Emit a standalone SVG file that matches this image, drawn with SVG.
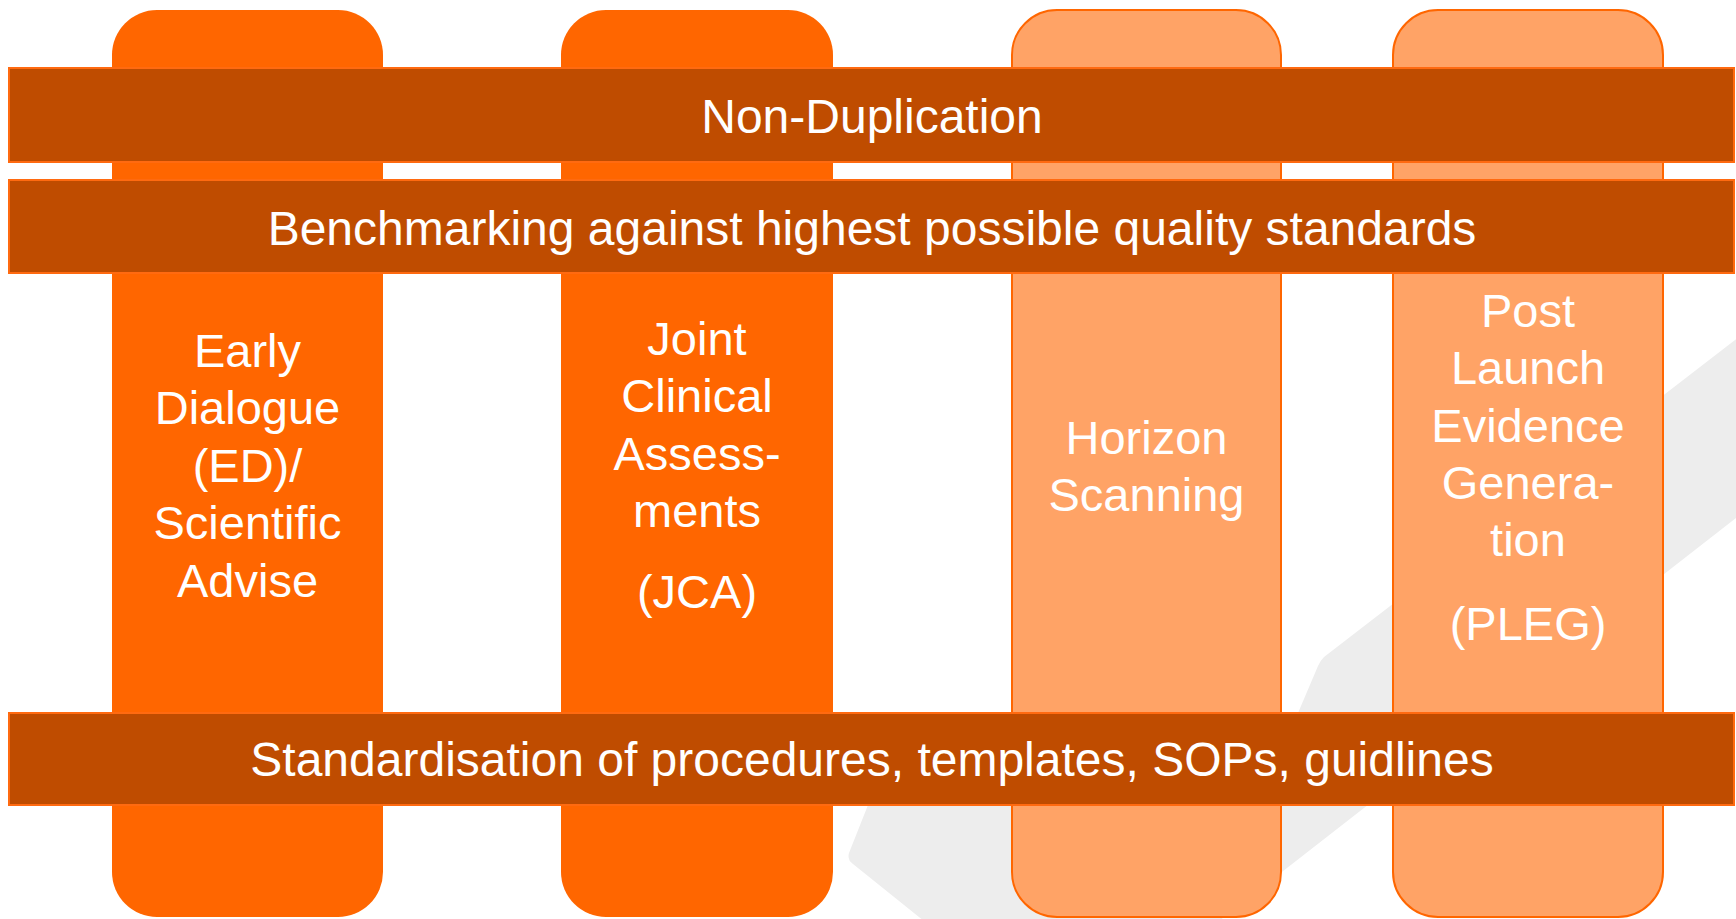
<svg xmlns="http://www.w3.org/2000/svg" width="1736" height="919" viewBox="0 0 1736 919">
<style>
.bg{fill:#EDEDED}
.pDark{fill:#FF6600}
.pLight{fill:#FFA366;stroke:#FF6600;stroke-width:2}
.bar{fill:#BF4C00;stroke:#FF6A10;stroke-width:2}
.t{font-family:"Liberation Sans",Arial,sans-serif;fill:#FFFFFF;text-anchor:middle}
.tb{font-size:48px}
.tp{font-size:47px}
</style>
<rect x="0" y="0" width="1736" height="919" fill="#FFFFFF"/>
<path class="bg" d="M 1800 290 L 1324 657 Q 1320 661 1318 666 L 1298 713 L 875 790 L 868 805 L 849 853 Q 847 860 853 864 L 960 950 L 1169 960 L 1736 518 L 1800 468 Z"/>
<g id="pillar-ed">
<rect class="pDark" x="112" y="10" width="271" height="907" rx="45" ry="45"/>
</g>
<g id="pillar-jca">
<rect class="pDark" x="561" y="10" width="272" height="907" rx="45" ry="45"/>
</g>
<g id="pillar-hs">
<rect class="pLight" x="1012" y="10" width="269" height="907" rx="45" ry="45"/>
</g>
<g id="pillar-pleg">
<rect class="pLight" x="1393" y="10" width="270" height="907" rx="45" ry="45"/>
</g>
<g id="bar-nonduplication">
<rect class="bar" x="9" y="68" width="1725" height="94"/>
<text class="t tb" x="872" y="133">Non-Duplication</text>
</g>
<g id="bar-benchmarking">
<rect class="bar" x="9" y="180" width="1725" height="93"/>
<text class="t tb" x="872" y="245">Benchmarking against highest possible quality standards</text>
</g>
<g id="bar-standardisation">
<rect class="bar" x="9" y="713" width="1725" height="92"/>
<text class="t tb" x="872" y="776">Standardisation of procedures, templates, SOPs, guidlines</text>
</g>
<g id="label-ed">
<text class="t tp"><tspan x="247.5" y="367">Early</tspan><tspan x="247.5" y="424">Dialogue</tspan><tspan x="247.5" y="482">(ED)/</tspan><tspan x="247.5" y="539">Scientific</tspan><tspan x="247.5" y="597">Advise</tspan></text>
</g>
<g id="label-jca">
<text class="t tp"><tspan x="697" y="355">Joint</tspan><tspan x="697" y="412">Clinical</tspan><tspan x="697" y="470">Assess-</tspan><tspan x="697" y="527">ments</tspan><tspan x="697" y="608">(JCA)</tspan></text>
</g>
<g id="label-hs">
<text class="t tp"><tspan x="1146.5" y="454">Horizon</tspan><tspan x="1146.5" y="511">Scanning</tspan></text>
</g>
<g id="label-pleg">
<text class="t tp"><tspan x="1528" y="327">Post</tspan><tspan x="1528" y="384">Launch</tspan><tspan x="1528" y="442">Evidence</tspan><tspan x="1528" y="499">Genera-</tspan><tspan x="1528" y="556">tion</tspan><tspan x="1528" y="640">(PLEG)</tspan></text>
</g>
<g id="connectors"></g>
</svg>
